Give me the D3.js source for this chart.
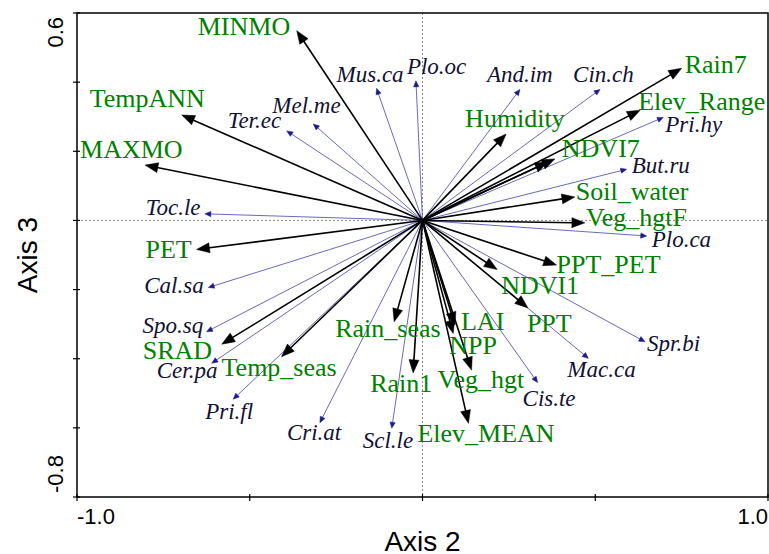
<!DOCTYPE html>
<html>
<head>
<meta charset="utf-8">
<script src="https://cdn.jsdelivr.net/npm/d3@7/dist/d3.min.js"></script>
<style>
  html, body { margin: 0; padding: 0; background: #fff; }
  svg { display: block; }
</style>
</head>
<body>
<svg id="chart" width="769" height="554"></svg>
<script>
// Environmental vectors (biplot scores on axes 2 and 3)
const envNames = ["MINMO", "TempANN", "MAXMO", "PET", "SRAD", "Temp_seas", "Rain_seas", "Rain1",
  "LAI", "NPP", "Veg_hgt", "Elev_MEAN", "PPT", "NDVI1", "PPT_PET", "Veg_hgtF", "Soil_water",
  "NDVI7", "", "Elev_Range", "Rain7", "Humidity"];
const envAxis2 = [-0.364, -0.697, -0.803, -0.654, -0.581, -0.408, -0.082, -0.027,
  0.094, 0.089, 0.142, 0.133, 0.305, 0.216, 0.388, 0.470, 0.441,
  0.383, 0.363, 0.630, 0.750, 0.242];
const envAxis3 = [0.549, 0.305, 0.160, -0.084, -0.358, -0.394, -0.293, -0.441,
  -0.303, -0.327, -0.433, -0.587, -0.253, -0.142, -0.129, -0.007, 0.068,
  0.178, 0.169, 0.319, 0.440, 0.250];

// Species vectors
const sppNames = ["Toc.le", "Cal.sa", "Spo.sq", "Cer.pa", "Pri.fl", "Cri.at", "Scl.le", "Cis.te",
  "Mac.ca", "Spr.bi", "Plo.ca", "But.ru", "Pri.hy", "Cin.ch", "And.im", "Plo.oc", "Mus.ca",
  "Mel.me", "Ter.ec"];
const sppAxis2 = [-0.630, -0.620, -0.625, -0.610, -0.548, -0.297, -0.089, 0.333,
  0.480, 0.644, 0.649, 0.591, 0.697, 0.514, 0.282, -0.019, -0.133,
  -0.316, -0.393];
const sppAxis3 = [0.019, -0.194, -0.322, -0.413, -0.517, -0.585, -0.601, -0.469,
  -0.399, -0.351, -0.045, 0.148, 0.298, 0.379, 0.379, 0.404, 0.382,
  0.279, 0.259];

// Axis ticks
const xTicks = [-1.0, -0.5, 0, 0.5, 1.0];
const xTickLabels = ["-1.0", "", "", "", "1.0"];
const yTicks = [-0.8, -0.6, -0.4, -0.2, 0, 0.2, 0.4, 0.6];
const yTickLabels = ["-0.8", "", "", "", "", "", "", "0.6"];

// Label placement (pixel nudges from each arrow tip, text anchored at start)
const envLabelNudge = [[-99, 4], [-92, -8], [-65, -7], [-51, 9], [-79, 15], [-60, 19], [-59, 15], [-43, 19],
  [6, 5], [-4, 21], [-34, 18], [-51, 19], [-1, 24], [4, 24], [0, 8], [1, 3], [1, 3],
  [7, -2], [0, 0], [-2, 0], [3, 5], [-41, -7]];
const sppLabelNudge = [[-59, 1], [-64, 6], [-64, 1], [-55, 15], [-28, 20], [-33, 17], [-29, 20], [-15, 23],
  [-21, 19], [2, 9], [5, 11], [5, 4], [2, 15], [-27, -7], [-33, -7], [-9, -7], [-40, -6],
  [-41, -11], [-59, -3]];

(function () {
  const svg = d3.select("#chart");
  const pL = 77, pR = 768, pT = 13, pB = 497;

  const x = d3.scaleLinear().domain([-1, 1]).range([pL, pR]);
  const y = d3.scaleLinear().domain([-0.8, 0.6]).range([pB, pT]);

  // Zero reference lines
  svg.append("line")
    .attr("x1", x(0)).attr("x2", x(0)).attr("y1", pT).attr("y2", pB)
    .attr("stroke", "#8c8c8c").attr("stroke-width", 1).attr("stroke-dasharray", "2,2");
  svg.append("line")
    .attr("x1", pL).attr("x2", pR).attr("y1", y(0)).attr("y2", y(0))
    .attr("stroke", "#8c8c8c").attr("stroke-width", 1).attr("stroke-dasharray", "2,2");

  function drawArrow(g, x0, y0, x1, y1, headLen, headHalf, stroke, width, fill) {
    const a = Math.atan2(y1 - y0, x1 - x0);
    const c = Math.cos(a), s = Math.sin(a);
    const bx = x1 - headLen * c, by = y1 - headLen * s;
    g.append("line")
      .attr("x1", x0).attr("y1", y0)
      .attr("x2", bx + 2 * c).attr("y2", by + 2 * s)
      .attr("stroke", stroke).attr("stroke-width", width);
    g.append("path")
      .attr("d", `M${x1},${y1}L${bx - headHalf * s},${by + headHalf * c}L${bx + headHalf * s},${by - headHalf * c}Z`)
      .attr("fill", fill).attr("stroke", fill).attr("stroke-width", 0.5);
  }

  const ox = x(0), oy = y(0);

  // Species arrows
  const sppG = svg.append("g");
  sppNames.forEach((n, i) => {
    drawArrow(sppG, ox, oy, x(sppAxis2[i]), y(sppAxis3[i]), 6, 2.6, "#4444aa", 0.8, "#1a1a8a");
  });

  // Environmental arrows
  const envG = svg.append("g");
  envNames.forEach((n, i) => {
    drawArrow(envG, ox, oy, x(envAxis2[i]), y(envAxis3[i]), 13, 5, "#000", 1.6, "#000");
  });

  const serif = "'Liberation Serif', 'Times New Roman', serif";

  // Species labels
  svg.append("g").selectAll("text").data(sppNames).join("text")
    .attr("x", (d, i) => x(sppAxis2[i]) + sppLabelNudge[i][0])
    .attr("y", (d, i) => y(sppAxis3[i]) + sppLabelNudge[i][1])
    .attr("font-family", serif)
    .attr("font-style", "italic")
    .attr("font-size", 23)
    .attr("fill", "#111133")
    .text(d => d);

  // Environmental labels
  svg.append("g").selectAll("text").data(envNames).join("text")
    .attr("x", (d, i) => x(envAxis2[i]) + envLabelNudge[i][0])
    .attr("y", (d, i) => y(envAxis3[i]) + envLabelNudge[i][1])
    .attr("font-family", serif)
    .attr("font-size", 26)
    .attr("fill", "#008000")
    .text(d => d);

  // Frame
  svg.append("rect")
    .attr("x", pL).attr("y", pT).attr("width", pR - pL).attr("height", pB - pT)
    .attr("fill", "none").attr("stroke", "#000").attr("stroke-width", 1.5);

  // Ticks crossing the axes
  svg.append("g").selectAll("line").data(xTicks).join("line")
    .attr("x1", d => x(d)).attr("x2", d => x(d))
    .attr("y1", pB - 3).attr("y2", pB + 4)
    .attr("stroke", "#000").attr("stroke-width", 1.2);
  svg.append("g").selectAll("line").data(yTicks).join("line")
    .attr("y1", d => y(d)).attr("y2", d => y(d))
    .attr("x1", pL - 4).attr("x2", pL + 3)
    .attr("stroke", "#000").attr("stroke-width", 1.2);

  const sans = "'Liberation Sans', Arial, sans-serif";

  // Tick labels: outermost values only, kept inside the frame's extent
  svg.append("g").selectAll("text").data(xTicks).join("text")
    .attr("x", d => x(d))
    .attr("y", 524)
    .attr("text-anchor", (d, i) => i === 0 ? "start" : "end")
    .attr("font-family", sans).attr("font-size", 22).attr("fill", "#000")
    .text((d, i) => xTickLabels[i]);
  svg.append("g").selectAll("text").data(yTicks).join("text")
    .attr("transform", (d, i) => `translate(63,${i === 0 ? y(d) - 4 : y(d) + 4}) rotate(-90)`)
    .attr("text-anchor", (d, i) => i === 0 ? "start" : "end")
    .attr("font-family", sans).attr("font-size", 22).attr("fill", "#000")
    .text((d, i) => yTickLabels[i]);

  // Axis titles
  svg.append("text")
    .attr("x", (pL + pR) / 2).attr("y", 551)
    .attr("text-anchor", "middle")
    .attr("font-family", sans).attr("font-size", 28).attr("fill", "#000")
    .text("Axis 2");
  svg.append("text")
    .attr("transform", `translate(37,${(pT + pB) / 2}) rotate(-90)`)
    .attr("text-anchor", "middle")
    .attr("font-family", sans).attr("font-size", 28).attr("fill", "#000")
    .text("Axis 3");
})();
</script>
</body>
</html>
